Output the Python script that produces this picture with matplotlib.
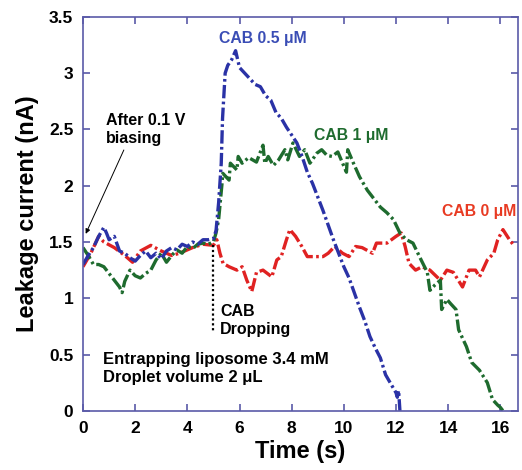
import matplotlib
matplotlib.use("Agg")
import matplotlib.pyplot as plt

plt.rcParams["font.family"] = ["Liberation Sans", "DejaVu Sans"]
plt.rcParams["font.weight"] = "bold"

# CAB 0.5 uM (blue)
t_blue = [0.0, 0.2, 0.4, 0.6, 0.8, 0.9, 1.0, 1.2, 1.4, 1.6, 1.8, 2.0, 2.2, 2.4,
          2.6, 2.8, 3.0, 3.2, 3.4, 3.6, 3.8, 4.0, 4.2, 4.4, 4.6, 4.8, 5.0, 5.1,
          5.2, 5.3, 5.35, 5.45, 5.55, 5.7, 5.85, 6.0, 6.2, 6.4, 6.6, 6.8, 7.0,
          7.2, 7.4, 7.6, 7.8, 8.0, 8.2, 8.4, 8.6, 8.8, 9.0, 9.2, 9.4, 9.6, 9.8,
          10.0, 10.2, 10.4, 10.6, 10.8, 11.0, 11.2, 11.4, 11.6, 11.8, 12.0,
          12.05, 12.1, 12.15]
i_blue = [1.30, 1.38, 1.45, 1.55, 1.63, 1.58, 1.52, 1.55, 1.42, 1.40, 1.36,
          1.33, 1.38, 1.42, 1.36, 1.40, 1.35, 1.42, 1.45, 1.43, 1.48, 1.46,
          1.50, 1.48, 1.52, 1.52, 1.53, 1.60, 1.85, 2.20, 2.60, 3.00, 3.07,
          3.12, 3.20, 3.05, 3.00, 2.95, 2.90, 2.88, 2.80, 2.76, 2.65, 2.60,
          2.52, 2.45, 2.38, 2.26, 2.12, 2.02, 1.90, 1.78, 1.65, 1.52, 1.40,
          1.28, 1.18, 1.05, 0.92, 0.80, 0.66, 0.56, 0.47, 0.32, 0.24, 0.16,
          0.12, 0.18, 0.0]

# CAB 1 uM (green)
t_green = [0.0, 0.2, 0.4, 0.6, 0.8, 1.0, 1.2, 1.4, 1.5, 1.6, 1.8, 2.0, 2.2,
           2.4, 2.6, 2.8, 3.0, 3.2, 3.4, 3.6, 3.8, 4.0, 4.2, 4.4, 4.6, 4.8,
           5.0, 5.1, 5.2, 5.33, 5.36, 5.6, 5.65, 5.9, 5.95, 6.1, 6.35, 6.65,
           6.9, 6.97, 7.1, 7.3, 7.5, 7.74, 7.85, 8.05, 8.3, 8.5, 8.7, 8.97,
           9.15, 9.35, 9.55, 9.77, 10.1, 10.15, 10.35, 10.6, 10.9, 11.1, 11.4,
           11.65, 11.9, 12.15, 12.4, 12.65, 12.9, 13.2, 13.3, 13.5, 13.7,
           13.75, 13.95, 14.1, 14.3, 14.4, 14.7, 14.9, 15.2, 15.5, 15.7, 15.9,
           16.0, 16.1]
i_green = [1.45, 1.38, 1.30, 1.30, 1.28, 1.22, 1.16, 1.10, 1.05, 1.15, 1.25,
           1.20, 1.18, 1.22, 1.25, 1.34, 1.40, 1.32, 1.38, 1.43, 1.40, 1.46,
           1.44, 1.48, 1.49, 1.48, 1.50, 1.58, 1.70, 2.02, 2.11, 2.05, 2.20,
           2.14, 2.26, 2.20, 2.25, 2.21, 2.36, 2.20, 2.26, 2.18, 2.23, 2.32,
           2.23, 2.38, 2.26, 2.32, 2.20, 2.29, 2.32, 2.27, 2.26, 2.30, 2.12,
           2.32, 2.21, 2.08, 1.96, 1.90, 1.81, 1.76, 1.70, 1.58, 1.52, 1.49,
           1.37, 1.23, 1.07, 1.12, 1.16, 0.90, 0.99, 0.95, 0.90, 0.72, 0.57,
           0.43, 0.36, 0.25, 0.10, 0.05, 0.03, 0.0]

# CAB 0 uM (red)
t_red = [0.0, 0.3, 0.6, 0.8, 1.2, 1.6, 1.9, 2.2, 2.6, 3.0, 3.4, 3.7, 4.2, 4.6,
         5.0, 5.13, 5.25, 5.37, 5.6, 5.9, 6.1, 6.28, 6.47, 6.65, 6.9, 7.24,
         7.43, 7.6, 7.8, 7.93, 8.15, 8.39, 8.6, 8.97, 9.2, 9.4, 9.65, 9.95,
         10.2, 10.45, 10.7, 11.1, 11.25, 11.65, 12.0, 12.2, 12.35, 12.5,
         12.75, 13.0, 13.3, 13.7, 13.95, 14.2, 14.55, 14.8, 15.05, 15.2,
         15.5, 15.75, 15.9, 16.1, 16.35, 16.55]
i_red = [1.28, 1.40, 1.55, 1.50, 1.45, 1.38, 1.32, 1.42, 1.47, 1.42, 1.38,
         1.40, 1.45, 1.48, 1.47, 1.52, 1.40, 1.31, 1.28, 1.25, 1.28, 1.16,
         1.06, 1.23, 1.25, 1.19, 1.34, 1.37, 1.52, 1.61, 1.55, 1.46, 1.37,
         1.37, 1.37, 1.40, 1.46, 1.40, 1.37, 1.46, 1.45, 1.40, 1.49, 1.49,
         1.55, 1.58, 1.46, 1.31, 1.25, 1.28, 1.25, 1.16, 1.25, 1.23, 1.10,
         1.25, 1.25, 1.19, 1.34, 1.40, 1.52, 1.61, 1.52, 1.46]

x_ticks = [0, 2, 4, 6, 8, 10, 12, 14, 16]
y_ticks = [0, 0.5, 1, 1.5, 2, 2.5, 3, 3.5]
y_tick_labels = ["0", "0.5", "1", "1.5", "2", "2.5", "3", "3.5"]

fig = plt.figure(figsize=(5.22, 4.70), dpi=100)
ax = fig.add_axes([0.159, 0.126, 0.833, 0.838])

dash = (4, 1.0, 0.8, 1.0)
ax.plot(t_red, i_red, color="#e02222", lw=2.4, dashes=dash)
ax.plot(t_green, i_green, color="#1e6b2e", lw=2.4, dashes=dash)
ax.plot(t_blue, i_blue, color="#2a32a6", lw=2.4, dashes=dash)

# CAB dropping marker
ax.plot([4.98, 4.98], [1.47, 0.69], color="black", lw=1.6, ls=(0, (1, 1.2)))

ax.set_xlim(0, 16.67)
ax.set_ylim(0, 3.5)
ax.set_xticks(x_ticks)
ax.set_yticks(y_ticks)
ax.set_yticklabels(y_tick_labels)

spine_col = "#5a5aa8"
for s in ax.spines.values():
    s.set_color(spine_col)
    s.set_linewidth(1.2)
ax.tick_params(direction="in", length=5, width=1.2, color=spine_col,
               top=True, right=True, labelsize=12.5, pad=7)
for lab in ax.get_xticklabels() + ax.get_yticklabels():
    lab.set_fontweight("bold")

ax.set_xlabel("Time (s)", fontsize=17, fontweight="bold", labelpad=3)
ax.set_ylabel("Leakage current (nA)", fontsize=17, fontweight="bold", labelpad=7)

ax.text(6.9, 3.31, "CAB 0.5 \u03bcM", color="#3a4db5", fontsize=11.3,
        fontweight="bold", ha="center", va="center")
ax.text(10.3, 2.45, "CAB 1 \u03bcM", color="#1e6b2e", fontsize=11.3,
        fontweight="bold", ha="center", va="center")
ax.text(15.2, 1.77, "CAB 0 \u03bcM", color="#e83a22", fontsize=11.3,
        fontweight="bold", ha="center", va="center")

ax.text(0.88, 2.5, "After 0.1 V\nbiasing", fontsize=11.5, fontweight="bold",
        ha="left", va="center", linespacing=1.25)
ax.annotate("", xy=(0.06, 1.55), xytext=(1.61, 2.34),
            arrowprops=dict(arrowstyle="-|>", color="black", lw=0.7,
                            mutation_scale=7))

ax.text(5.25, 0.8, "CAB\nDropping", fontsize=11.5, fontweight="bold",
        ha="left", va="center", linespacing=1.25)
ax.text(0.75, 0.375, "Entrapping liposome 3.4 mM\nDroplet volume 2 \u03bcL",
        fontsize=12, fontweight="bold", ha="left", va="center",
        linespacing=1.3)

fig.savefig("out.png", dpi=100)
